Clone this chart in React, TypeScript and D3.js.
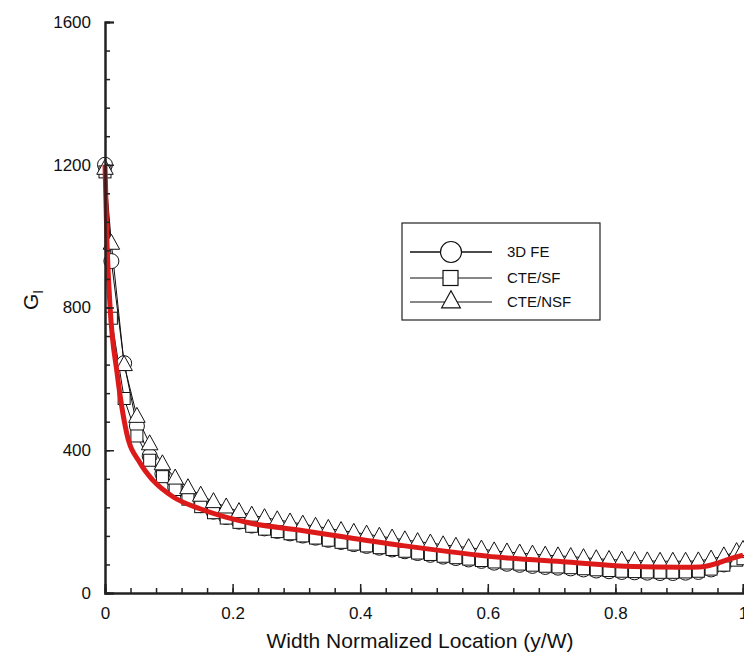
import React, { useRef, useEffect } from 'react';
import * as d3 from 'd3';

// sample locations (y/W) shared by the three marked series
const locations = [0, 0.01, 0.03, 0.05, 0.07, 0.09, 0.11, 0.13, 0.15, 0.17, 0.19, 0.21, 0.23, 0.25, 0.27, 0.29,
    0.31, 0.33, 0.35, 0.37, 0.39, 0.41, 0.43, 0.45, 0.47, 0.49, 0.51, 0.53, 0.55, 0.57, 0.59, 0.61, 0.63, 0.65,
    0.67, 0.69, 0.71, 0.73, 0.75, 0.77, 0.79, 0.81, 0.83, 0.85, 0.87, 0.89, 0.91, 0.93, 0.95, 0.97, 0.99, 1.0];

const fe3d = [1200, 930, 644, 468, 384, 334, 296, 268, 246, 228, 213, 200, 189, 181, 174, 167,
    161, 155, 149, 143, 137, 132, 127, 122, 117, 112, 107, 102, 98, 94, 90, 85, 82, 79,
    76, 73, 71, 69, 66, 63, 61, 59, 58, 57, 56, 56, 57, 59, 66, 80, 98, 108];

const cteSf = [1180, 770, 545, 440, 372, 326, 290, 263, 242, 225, 210, 198, 187, 179, 172, 166,
    160, 154, 148, 142, 137, 132, 127, 122, 117, 112, 108, 103, 99, 95, 91, 87, 84, 81,
    78, 75, 73, 71, 68, 65, 63, 61, 60, 59, 58, 58, 59, 61, 67, 78, 92, 96];

const cteNsf = [1190, 980, 640, 495, 418, 362, 322, 295, 274, 256, 241, 228, 218, 211, 205, 199,
    193, 187, 181, 175, 170, 165, 159, 154, 149, 144, 140, 135, 131, 127, 123, 118, 115, 112,
    109, 106, 104, 102, 99, 96, 94, 92, 91, 90, 89, 89, 89, 90, 95, 104, 116, 122];

// red overlay curve
const redX = [0, 0.003, 0.008, 0.019, 0.034, 0.055, 0.075, 0.107, 0.149, 0.227, 0.306, 0.462, 0.619, 0.724, 0.828, 0.9, 0.933, 0.984, 1.0];
const redY = [1200, 990, 800, 616, 448, 364, 316, 269, 236, 196, 176, 134, 100, 87, 74, 72, 73, 98, 106];

const xTicks = [0, 0.2, 0.4, 0.6, 0.8, 1];
const yTicks = [0, 400, 800, 1200, 1600];

const legendNames = ['3D FE', 'CTE/SF', 'CTE/NSF'];

const W = 744;
const H = 660;
const font = 'Liberation Sans, Arial, sans-serif';

export default function App() {
    const axRef = useRef<SVGGElement>(null);

    const x = d3.scaleLinear().domain([0, 1]).range([105, 743]);
    const y = d3.scaleLinear().domain([0, 1600]).range([593, 22]);

    useEffect(() => {
        const g = d3.select(axRef.current);
        g.selectAll('*').remove();

        const yMinor = d3.axisLeft(y).tickValues(d3.range(0, 1601, 80)).tickSize(-5).tickFormat(() => '');
        g.append('g').attr('transform', `translate(${x(0)},0)`).call(yMinor);
        const yMajor = d3.axisLeft(y).tickValues(yTicks).tickSize(-9).tickPadding(14).tickFormat(d3.format('d'));
        g.append('g').attr('transform', `translate(${x(0)},0)`).call(yMajor);

        const xMinor = d3.axisBottom(x).tickValues(d3.range(0, 1.0001, 0.04)).tickSize(-5).tickFormat(() => '');
        g.append('g').attr('transform', `translate(0,${y(0)})`).call(xMinor);
        const xMajor = d3.axisBottom(x).tickValues(xTicks).tickSize(-9).tickPadding(14)
            .tickFormat(d => (d === 0 || d === 1 ? String(d) : d3.format('.1f')(d as number)));
        g.append('g').attr('transform', `translate(0,${y(0)})`).call(xMajor);

        g.selectAll('.domain').attr('stroke', '#222').attr('stroke-width', 2);
        g.selectAll('.tick line').attr('stroke', '#222').attr('stroke-width', 1.5);
        g.selectAll('.tick text').attr('fill', '#111').style('font-family', font).style('font-size', '17px');
    }, []);

    const mkLine = (vals: number[]) =>
        d3.line<number>().x((_, i) => x(locations[i])).y(v => y(v))(vals) || '';

    const redLine = d3.line<number>()
        .x((_, i) => x(redX[i]))
        .y(v => y(v))
        .curve(d3.curveMonotoneX)(redY) || '';

    const tri = (cx: number, cy: number, s: number) =>
        `M${cx},${cy - s * 0.6}L${cx + s * 0.55},${cy + s * 0.4}L${cx - s * 0.55},${cy + s * 0.4}Z`;

    const lx = 402, ly = 223, lw = 198, lh = 97;
    const rows = [252, 278, 302];

    return (
        <svg width={W} height={H} style={{ position: 'absolute', left: 0, top: 0, background: '#fff' }}>
            <g fill="none" stroke="#111" strokeWidth={1}>
                <path d={mkLine(fe3d)} />
                <path d={mkLine(cteSf)} />
                <path d={mkLine(cteNsf)} />
            </g>
            <g fill="#fff" stroke="#111" strokeWidth={1}>
                {fe3d.map((v, i) => <circle key={'c' + i} cx={x(locations[i])} cy={y(v)} r={7.5} />)}
                {cteSf.map((v, i) => <rect key={'s' + i} x={x(locations[i]) - 6} y={y(v) - 6} width={12} height={12} />)}
                {cteNsf.map((v, i) => <path key={'t' + i} d={tri(x(locations[i]), y(v), 15)} />)}
            </g>
            <path d={redLine} fill="none" stroke="#dd1a1a" strokeWidth={5} strokeLinejoin="round" />
            <g ref={axRef} />
            <g>
                <rect x={lx} y={ly} width={lw} height={lh} fill="#fff" stroke="#222" strokeWidth={1.2} />
                {legendNames.map((name, i) => (
                    <g key={name}>
                        <line x1={410} x2={492} y1={rows[i]} y2={rows[i]} stroke="#111" strokeWidth={i === 0 ? 1.4 : 1} />
                        {i === 0 && <circle cx={451} cy={rows[i]} r={10.5} fill="#fff" stroke="#111" strokeWidth={1.2} />}
                        {i === 1 && <rect x={443} y={rows[i] - 7.5} width={15} height={15} fill="#fff" stroke="#111" strokeWidth={1.2} />}
                        {i === 2 && <path d={tri(451, rows[i] - 1, 17)} fill="#fff" stroke="#111" strokeWidth={1.2} />}
                        <text x={507} y={rows[i] + 5} fontFamily={font} fontSize={15} fill="#111">{name}</text>
                    </g>
                ))}
            </g>
            <text transform="translate(38,300) rotate(-90)" textAnchor="middle" fontFamily={font} fontSize={21} fill="#111">
                G<tspan fontSize={14} dy={5}>I</tspan>
            </text>
            <text x={420} y={648} textAnchor="middle" fontFamily={font} fontSize={21} fill="#111">
                Width Normalized Location (y/W)
            </text>
        </svg>
    );
}
